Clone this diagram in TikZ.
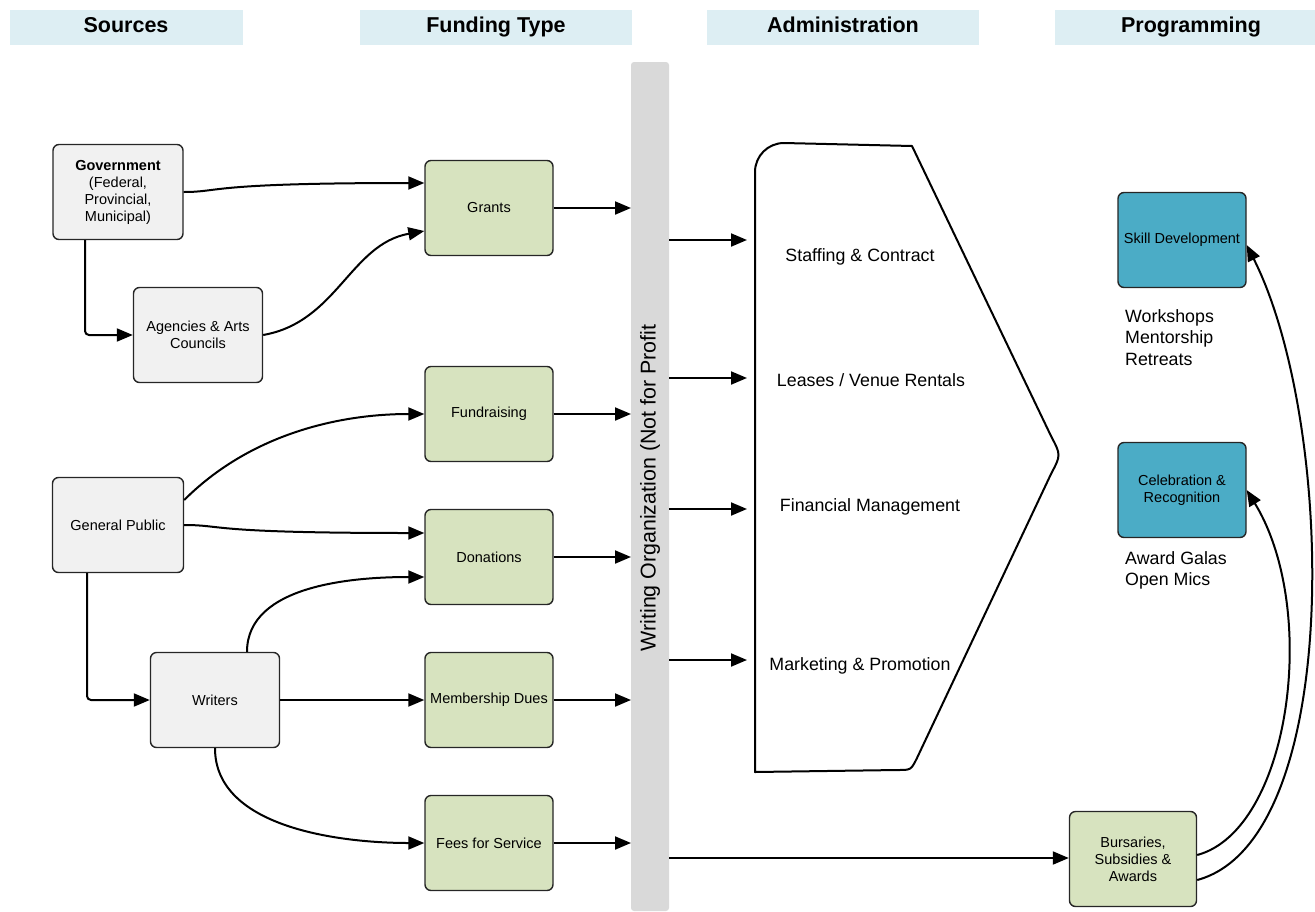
\documentclass[tikz,border=0pt]{standalone}
\usepackage{fontspec}
\setmainfont{Liberation Sans}
\usetikzlibrary{arrows.meta}
\definecolor{hdrblue}{HTML}{DDEEF3}
\definecolor{srcgray}{HTML}{F1F1F1}
\definecolor{fundgreen}{HTML}{D7E3BF}
\definecolor{progblue}{HTML}{4BACC6}
\definecolor{bargray}{HTML}{D9D9D9}
\tikzset{
  header/.style={fill=hdrblue, draw=none, minimum height=35pt, text height=15pt, text depth=4.5pt,
                 font=\fontsize{21.5}{24}\selectfont\bfseries},
  box/.style={draw=black!85, line width=1.4pt, rounded corners=6pt, minimum width=129pt, minimum height=95pt,
              align=center, font=\fontsize{14.5}{17}\selectfont},
  srcbox/.style={box, fill=srcgray},
  fundbox/.style={box, fill=fundgreen, minimum width=128pt},
  progbox/.style={box, fill=progblue, minimum width=128pt},
  admtext/.style={font=\fontsize{17.8}{20}\selectfont},
  note/.style={align=left, anchor=north west, font=\fontsize{17.8}{21.5}\selectfont, inner sep=0pt},
  link/.style={line width=2pt, -{Triangle[length=16pt,width=13pt]}},
  plain/.style={line width=2pt}
}
\begin{document}
\begin{tikzpicture}[x=1pt,y=-1pt]
\useasboundingbox (0,0) rectangle (1315,911);

% column headers
\node[header, minimum width=233pt] (hsrc) at (126,27) {Sources};
\node[header, minimum width=272pt] (hfund) at (496,27) {Funding Type};
\node[header, minimum width=272pt] (hadm) at (843,27) {Administration};
\fill[hdrblue] (1055,10) rectangle (1315,45);
\node[font=\fontsize{21.5}{24}\selectfont\bfseries, text height=15pt, text depth=4.5pt] (hprog) at (1191,27) {Programming};

% central organisation bar
\fill[bargray, rounded corners=3pt] (631,62) rectangle (669,911);
\node[rotate=90, font=\fontsize{21.4}{24}\selectfont, text height=15.5pt, text depth=4.5pt] (org) at (650,488) {Writing Organization (Not for Profit};
\coordinate (bg) at (631,208);
\coordinate (bf) at (631,414);
\coordinate (bd) at (631,557);
\coordinate (bm) at (631,700);
\coordinate (bs) at (631,843);
\coordinate (o1) at (669,240);
\coordinate (o2) at (669,378);
\coordinate (o3) at (669,509);
\coordinate (o4) at (669,660);
\coordinate (o5) at (669,858);

% sources
\node[srcbox, minimum width=130pt] (gov) at (118,192) {\textbf{Government}\\(Federal,\\Provincial,\\Municipal)};
\node[srcbox] (agency) at (198,335) {Agencies \& Arts\\Councils};
\node[srcbox, minimum width=131pt] (public) at (118,525) {General Public};
\node[srcbox] (writers) at (215,700) {Writers};

% funding types
\node[fundbox] (grants) at (489,208) {Grants};
\node[fundbox] (fundr) at (489,414) {Fundraising};
\node[fundbox] (don) at (489,557) {Donations};
\node[fundbox] (memb) at (489,700) {Membership Dues};
\node[fundbox] (fees) at (489,843) {Fees for Service};

% programming
\node[progbox] (skill) at (1182,240) {Skill Development};
\node[progbox] (celeb) at (1182,490) {Celebration \&\\Recognition};
\node[fundbox, minimum width=127pt] (burs) at (1133,859) {Bursaries,\\Subsidies \&\\Awards};
\node[note] (skillnote) at (1125,309) {Workshops\\Mentorship\\Retreats};
\node[note] (celebnote) at (1125,551) {Award Galas\\Open Mics};

% administration block: rounded top-left, sharp top-right, rounded point and bottom-right
\draw[line width=2pt, line join=round]
  (755,772) -- (755,172) to[out=90,in=180] (784,143) -- (912,146)
  -- (1051,436) .. controls (1061,455) .. (1051,474)
  -- (917,758) .. controls (911,770) .. (898,770) -- cycle;
\node[admtext] (a1) at (860,257) {Staffing \& Contract};
\node[admtext] (a2) at (871,380) {Leases / Venue Rentals};
\node[admtext] (a3) at (870,507) {Financial Management};
\node[admtext] (a4) at (860,666) {Marketing \& Promotion};
\coordinate (i1) at (747,240);
\coordinate (i2) at (747,378);
\coordinate (i3) at (747,509);
\coordinate (i4) at (747,660);

% sources to funding types
\draw[link] (gov.east) .. controls (222,192) and (205,183) .. (grants.west |- 0,183);
\draw[link, rounded corners=4pt] (gov.south -| 85,0) -- (85,335) -- (agency.west);
\draw[link] (agency.east) to[out=10,in=190,looseness=1] (grants.west |- 0,231);
\draw[link] (public.east |- 0,500) to[out=45,in=180,looseness=0.9] (fundr.west);
\draw[link] (public.east) .. controls (225,525) and (205,533) .. (don.west |- 0,533);
\draw[link, rounded corners=4pt] (public.south -| 87,0) -- (87,700) -- (writers.west);
\draw[link] (writers.north -| 247,0) to[out=90,in=180,looseness=0.9] (don.west |- 0,577);
\draw[link] (writers.east) -- (memb.west);
\draw[link] (writers.south -| 215,0) to[out=270,in=180,looseness=0.9] (fees.west);

% funding types into the organisation
\draw[link] (grants.east) -- (bg);
\draw[link] (fundr.east) -- (bf);
\draw[link] (don.east) -- (bd);
\draw[link] (memb.east) -- (bm);
\draw[link] (fees.east) -- (bs);

% organisation to administration and programming
\draw[link] (o1) -- (i1);
\draw[link] (o2) -- (i2);
\draw[link] (o3) -- (i3);
\draw[link] (o4) -- (i4);
\draw[link] (o5) -- (burs.west |- o5);

% bursaries feeding the programmes
\draw[link] (burs.east |- 0,855) .. controls (1290,830) and (1320,610) .. (celeb.east);
\draw[link] (burs.east |- 0,880) .. controls (1345,840) and (1335,420) .. (skill.east |- 0,245);
\end{tikzpicture}
\end{document}
